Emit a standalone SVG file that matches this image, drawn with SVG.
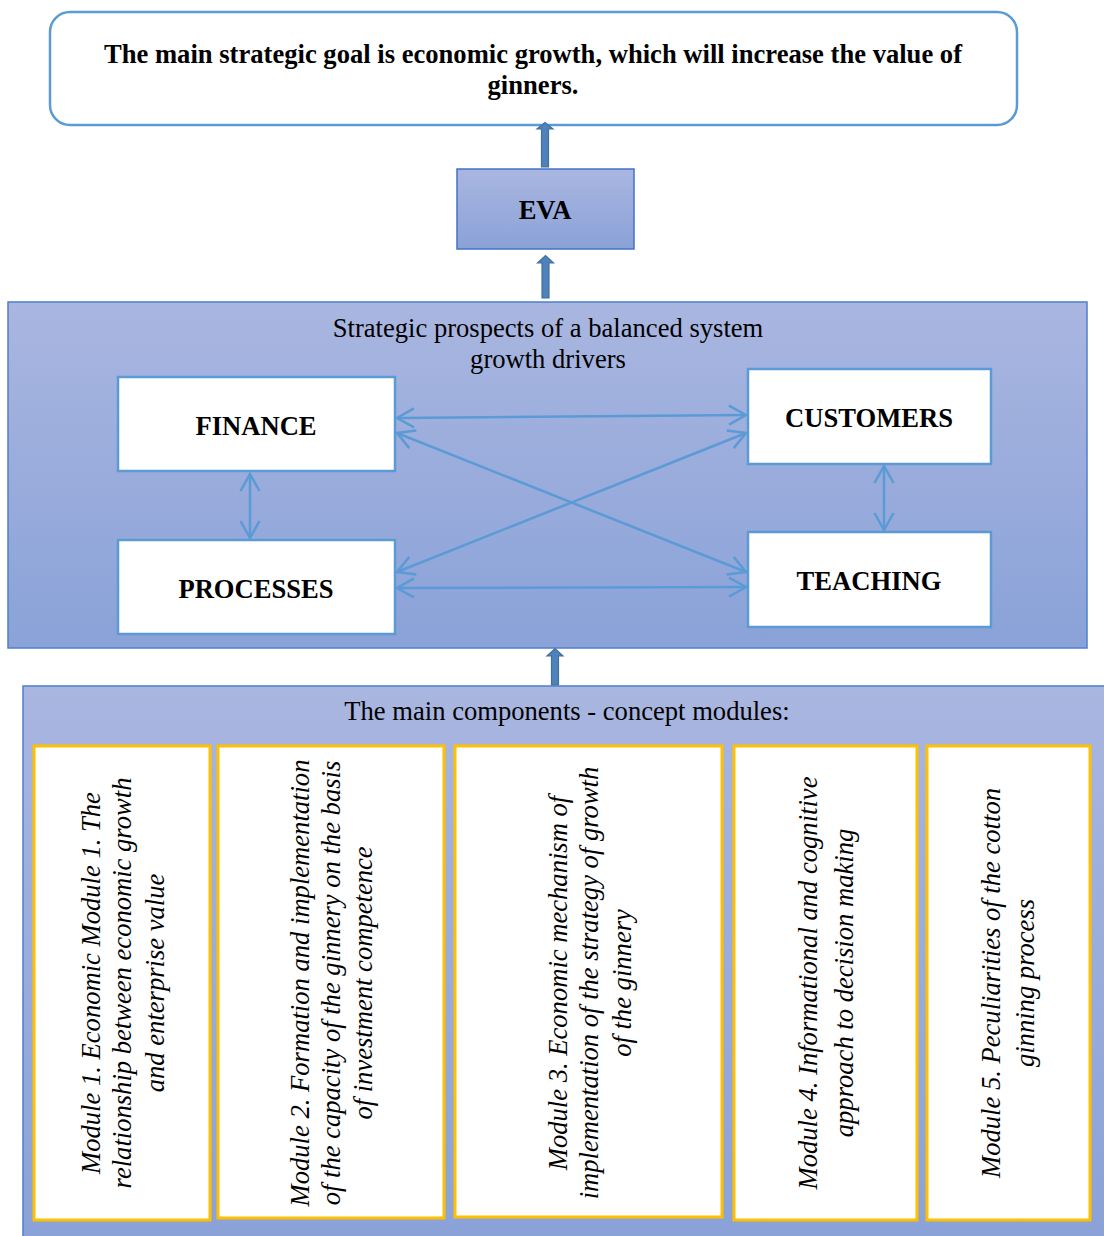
<svg xmlns="http://www.w3.org/2000/svg" width="1104" height="1236" viewBox="0 0 1104 1236">
<style>
text{font-family:"Liberation Serif","Times New Roman",serif;fill:#000;}
.b{font-weight:bold;font-size:26.6px;text-anchor:middle;}
.r{font-size:26.6px;text-anchor:middle;}
.m{font-size:26.6px;font-style:italic;text-anchor:middle;}
.node{fill:#fff;stroke:#5b9bd5;stroke-width:2.5;}
.mod{fill:#fff;stroke:#ffc000;stroke-width:3;}
.panel{stroke:#4f7fcc;stroke-width:1.5;}
.blk{fill:#4f81bd;stroke:#41719c;stroke-width:1.2;}
.con{stroke:#5b9bd5;stroke-width:2.5;fill:none;marker-start:url(#ah);marker-end:url(#ah);}
</style>
<defs>
<linearGradient id="g1" x1="0" y1="0" x2="0" y2="1">
<stop offset="0" stop-color="#a9b6e0"/>
<stop offset="1" stop-color="#8aa2d8"/>
</linearGradient>
<marker id="ah" markerUnits="userSpaceOnUse" viewBox="-20 -12 22 24" markerWidth="22" markerHeight="24" refX="0" refY="0" orient="auto-start-reverse">
<path d="M-17,-9.5 L0,0 L-17,9.5" fill="none" stroke="#5b9bd5" stroke-width="2.5"/>
</marker>
</defs>
<rect width="1104" height="1236" fill="#fff"/>

<g id="goal">
<rect x="50" y="12" width="967" height="113" rx="20" ry="20" fill="#fff" stroke="#5b9bd5" stroke-width="2.5"/>
<text class="b" x="533" y="63">The main strategic goal is economic growth, which will increase the value of</text>
<text class="b" x="533" y="94">ginners.</text>
</g>

<g id="eva">
<rect x="457" y="169" width="177" height="80" fill="url(#g1)" stroke="#4472c4" stroke-width="1.5"/>
<text class="b" x="545" y="219">EVA</text>
</g>

<g id="drivers">
<rect class="panel" x="8" y="302" width="1079" height="346" fill="url(#g1)"/>
<text class="r" x="548" y="337">Strategic prospects of a balanced system</text>
<text class="r" x="548" y="368">growth drivers</text>
</g>

<g id="finance">
<rect class="node" x="118" y="377" width="277" height="94"/>
<text class="b" x="256" y="435">FINANCE</text>
</g>
<g id="customers">
<rect class="node" x="748" y="369" width="243" height="95"/>
<text class="b" x="869" y="427">CUSTOMERS</text>
</g>
<g id="processes">
<rect class="node" x="118" y="540" width="277" height="94"/>
<text class="b" x="256" y="598">PROCESSES</text>
</g>
<g id="teaching">
<rect class="node" x="748" y="532" width="243" height="95"/>
<text class="b" x="869" y="590">TEACHING</text>
</g>

<g id="modules-panel">
<rect class="panel" x="23" y="686" width="1100" height="560" fill="url(#g1)"/>
<text class="r" x="567" y="720">The main components - concept modules:</text>
</g>

<g id="module1">
<rect class="mod" x="34" y="746" width="176" height="474"/>
<text class="m" transform="translate(100,983) rotate(-90)">Module 1. Economic Module 1. The</text>
<text class="m" transform="translate(131,983) rotate(-90)">relationship between economic growth</text>
<text class="m" transform="translate(164,983) rotate(-90)">and enterprise value</text>
</g>
<g id="module2">
<rect class="mod" x="218" y="746" width="226" height="472"/>
<text class="m" transform="translate(309,983) rotate(-90)">Module 2. Formation and implementation</text>
<text class="m" transform="translate(340,983) rotate(-90)">of the capacity of the ginnery on the basis</text>
<text class="m" transform="translate(372,983) rotate(-90)">of investment competence</text>
</g>
<g id="module3">
<rect class="mod" x="455" y="746" width="267" height="471"/>
<text class="m" transform="translate(567,983) rotate(-90)">Module 3. Economic mechanism of</text>
<text class="m" transform="translate(598,983) rotate(-90)">implementation of the strategy of growth</text>
<text class="m" transform="translate(631,983) rotate(-90)">of the ginnery</text>
</g>
<g id="module4">
<rect class="mod" x="734" y="746" width="183" height="474"/>
<text class="m" transform="translate(817,983) rotate(-90)">Module 4. Informational and cognitive</text>
<text class="m" transform="translate(853,983) rotate(-90)">approach to decision making</text>
</g>
<g id="module5">
<rect class="mod" x="927" y="746" width="163" height="474"/>
<text class="m" transform="translate(1000,983) rotate(-90)">Module 5. Peculiarities of the cotton</text>
<text class="m" transform="translate(1034,983) rotate(-90)">ginning process</text>
</g>

<g id="connectors">
<path class="blk" d="M541.5,167 L541.5,129 L537,129 L545,122.5 L553,129 L548.5,129 L548.5,167 Z"/>
<path class="blk" d="M542,298 L542,263 L537.5,263 L545.5,255.5 L553.5,263 L549,263 L549,298 Z"/>
<path class="blk" d="M551.5,685 L551.5,656 L547,656 L555,648.5 L563,656 L558.5,656 L558.5,685 Z"/>
<line class="con" x1="397" y1="418" x2="746" y2="415"/>
<line class="con" x1="397" y1="433" x2="746" y2="572"/>
<line class="con" x1="397" y1="572" x2="746" y2="433"/>
<line class="con" x1="397" y1="588" x2="746" y2="587"/>
<line class="con" x1="250" y1="474" x2="250" y2="538"/>
<line class="con" x1="884" y1="466" x2="884" y2="530"/>
</g>
</svg>
